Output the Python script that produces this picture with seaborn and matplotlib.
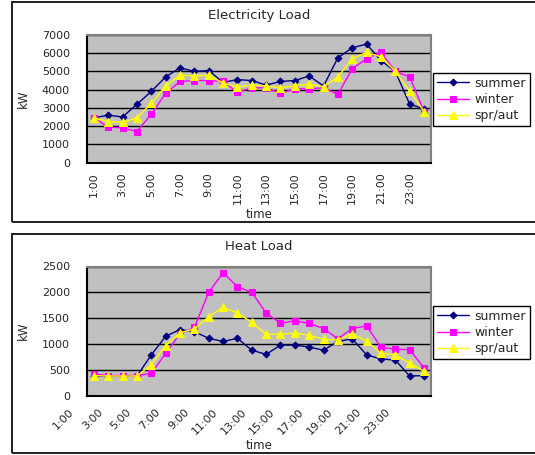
import numpy as np
import pandas as pd
import matplotlib
matplotlib.use('Agg')
import matplotlib.pyplot as plt
import matplotlib.transforms as mtransforms
from matplotlib.patches import Rectangle
from matplotlib.ticker import FixedLocator, MultipleLocator
import seaborn as sns

# categories
hours = ['1:00', '2:00', '3:00', '4:00', '5:00', '6:00', '7:00', '8:00',
         '9:00', '10:00', '11:00', '12:00', '13:00', '14:00', '15:00', '16:00',
         '17:00', '18:00', '19:00', '20:00', '21:00', '22:00', '23:00', '24:00']
seasons = ['summer', 'winter', 'spr/aut']

# electricity load (kW)
elec_summer = [2450, 2600, 2500, 3200, 3900, 4700, 5200, 5000, 5050, 4400, 4550, 4500,
               4250, 4450, 4500, 4750, 4200, 5750, 6300, 6500, 5600, 5000, 3200, 2950]
elec_winter = [2450, 1950, 1900, 1700, 2650, 3800, 4450, 4500, 4500, 4450, 3850, 4100,
               4100, 3800, 4050, 4050, 4100, 3750, 5150, 5700, 6050, 5000, 4700, 2800]
elec_spraut = [2450, 2250, 2200, 2450, 3250, 4200, 4800, 4750, 4800, 4350, 4150, 4250,
               4200, 4100, 4200, 4300, 4150, 4700, 5700, 6050, 5800, 5000, 3900, 2800]

# heat load (kW)
heat_summer = [380, 380, 380, 380, 790, 1150, 1280, 1240, 1110, 1050, 1110, 880,
               800, 980, 980, 940, 880, 1050, 1100, 790, 710, 690, 380, 390]
heat_winter = [420, 390, 390, 390, 430, 820, 1200, 1320, 2000, 2380, 2110, 2000,
               1600, 1400, 1450, 1400, 1300, 1100, 1300, 1350, 940, 900, 890, 540]
heat_spraut = [390, 380, 380, 380, 600, 970, 1220, 1290, 1530, 1710, 1600, 1420,
               1190, 1190, 1210, 1170, 1090, 1080, 1200, 1060, 820, 790, 630, 470]

elec = pd.DataFrame({'summer': elec_summer, 'winter': elec_winter, 'spr/aut': elec_spraut})
heat = pd.DataFrame({'summer': heat_summer, 'winter': heat_winter, 'spr/aut': heat_spraut})

colors = {'summer': '#000080', 'winter': '#FF00FF', 'spr/aut': '#FFFF00'}
markers = {'summer': 'D', 'winter': 's', 'spr/aut': '^'}
msize = {'summer': 3.5, 'winter': 5, 'spr/aut': 5.5}

sns.set_style('white')
plt.rcParams['font.family'] = ['DejaVu Sans']

W, H = 535, 455
fig = plt.figure(figsize=(W / 100, H / 100), dpi=100)

# outer chart frames
for y0, y1 in [(2, 222), (234, 453)]:
    fig.add_artist(Rectangle((12 / W, 1 - y1 / H), 1.2, (y1 - y0) / H,
                             transform=fig.transFigure, fill=False,
                             edgecolor='#202020', linewidth=1.4))


def draw(ax, data, title, ymax, ystep, rot, leg_box):
    ax.set_facecolor('#C0C0C0')
    x = np.arange(len(hours))
    for name in seasons:
        sns.lineplot(x=x, y=data[name].values, ax=ax, color=colors[name],
                     marker=markers[name], markersize=msize[name],
                     markeredgecolor=colors[name], linewidth=1, label=name)
    ax.set_xlim(-0.5, len(hours) - 0.5)
    ax.set_ylim(0, ymax)
    ax.yaxis.set_major_locator(MultipleLocator(ystep))
    ax.yaxis.grid(True, color='black', linewidth=1)
    ax.set_axisbelow(True)
    ax.set_yticklabels([str(int(v)) for v in ax.get_yticks()])
    ax.tick_params(axis='y', direction='in', length=3, labelsize=8, pad=12)

    ax.xaxis.set_major_locator(FixedLocator(x[::2]))
    ax.set_xticklabels(hours[::2])
    ax.xaxis.set_minor_locator(FixedLocator(np.arange(-0.5, len(hours), 1)))
    ax.tick_params(axis='x', which='major', length=0, labelsize=8)
    ax.tick_params(axis='x', which='minor', direction='in', length=3, width=1)
    if rot == 90:
        ax.tick_params(axis='x', which='major', pad=7)
        for lab in ax.get_xticklabels():
            lab.set_rotation(90)
    else:
        off = mtransforms.ScaledTranslation(-0.25, -0.06, fig.dpi_scale_trans)
        for lab in ax.get_xticklabels():
            lab.set_rotation(45)
            lab.set_ha('right')
            lab.set_rotation_mode('anchor')
            lab.set_transform(lab.get_transform() + off)

    for s in ['left', 'bottom']:
        ax.spines[s].set_color('black')
        ax.spines[s].set_linewidth(1.5)
    for s in ['top', 'right']:
        ax.spines[s].set_color('#808080')
        ax.spines[s].set_linewidth(1.5)

    ax.set_xlabel('time', fontsize=8.5)
    ax.set_ylabel('kW', fontsize=8.5)
    ax.yaxis.set_label_coords(-0.165, 0.5)
    ax.text(0.5, 1.155, title, transform=ax.transAxes, ha='center', va='center',
            fontsize=9.5)

    ax.get_legend().remove()
    h, l = ax.get_legend_handles_labels()
    leg = ax.legend(h, l, loc='upper left', bbox_to_anchor=leg_box,
                    bbox_transform=fig.transFigure, borderaxespad=0,
                    fontsize=9, handlelength=2.6, labelspacing=0.25,
                    fancybox=False, framealpha=1, edgecolor='black',
                    borderpad=0.3, handletextpad=0.4)
    leg.get_frame().set_linewidth(1)
    return ax


ax1 = fig.add_axes([86.7 / W, 1 - 162.5 / H, 344.5 / W, 127.5 / H])
draw(ax1, elec, 'Electricity Load', 7000, 1000, 90, (433 / W, 1 - 73 / H))
ax1.xaxis.set_label_coords(0.5, -0.36)

ax2 = fig.add_axes([86.7 / W, 1 - 395.7 / H, 344.5 / W, 129.2 / H])
draw(ax2, heat, 'Heat Load', 2500, 500, 45, (433 / W, 1 - 306 / H))
ax2.xaxis.set_label_coords(0.5, -0.335)

fig.savefig('out.png', dpi=100)
